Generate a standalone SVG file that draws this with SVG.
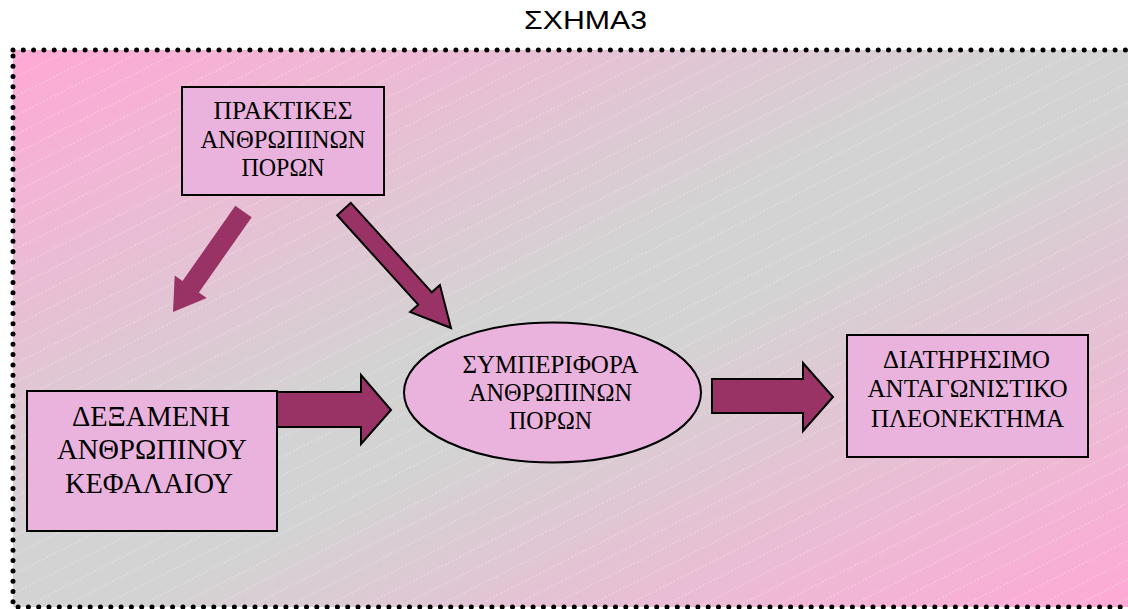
<svg xmlns="http://www.w3.org/2000/svg" width="1128" height="609" viewBox="0 0 1128 609">
<style>
.box{fill:#E9B3DD;stroke:#000;stroke-width:2}
.lbl{font-family:"Liberation Serif","DejaVu Serif","Times New Roman",serif;fill:#000;text-anchor:middle}
.arr{fill:#993366;stroke:#000;stroke-width:2;stroke-linejoin:miter}
.arrn{fill:#993366}
.title{font-family:"Liberation Sans",Arial,sans-serif;font-size:26px;fill:#000}
</style>
<defs>
<linearGradient id="bg" x1="0" y1="0" x2="1" y2="1">
<stop offset="0" stop-color="#FFA8D5"/>
<stop offset="0.45" stop-color="#D3D3D3"/>
<stop offset="0.55" stop-color="#D3D3D3"/>
<stop offset="1" stop-color="#FFA8D5"/>
</linearGradient>
<pattern id="hatch" patternUnits="userSpaceOnUse" width="40" height="17" patternTransform="rotate(-27)">
<line x1="0" y1="8" x2="40" y2="8" stroke="#fff" stroke-width="0.8" stroke-dasharray="2 2" opacity="0.45"/>
</pattern>
</defs>
<rect width="1128" height="609" fill="#fff"/>
<text class="title" x="524" y="29" textLength="123" lengthAdjust="spacingAndGlyphs">ΣΧΗΜΑ3</text>
<g id="frame">
<rect x="13" y="50" width="1130" height="557" fill="url(#bg)"/>
<rect x="13" y="50" width="1130" height="557" fill="url(#hatch)"/>
<rect x="13" y="50" width="1130" height="557" fill="none" stroke="#000" stroke-width="5" stroke-linecap="round" stroke-dasharray="0 10.3"/>
</g>
<g id="connectors">
<polygon class="arr" points="270,392 361,392 361,375 391,410 361,444 361,427 270,427"/>
<polygon class="arr" points="712,379 803,379 803,363 833,397 803,431 803,413 712,413"/>
<polygon class="arr" points="350.8,202.8 431.8,292.3 439.9,285.1 451,328 410.1,311.9 418.2,304.7 337.2,215.2"/>
<polygon class="arrn" points="251.7,217.2 198.9,292.5 206.7,298 173,312 174.7,275.6 182.5,281.1 235.3,205.8"/>
</g>
<g id="n_praktikes">
<rect class="box" x="182" y="87" width="202" height="108"/>
<text class="lbl" font-size="25.5"><tspan x="283" y="119" textLength="139" lengthAdjust="spacingAndGlyphs">ΠΡΑΚΤΙΚΕΣ</tspan></text>
<text class="lbl" font-size="25.5"><tspan x="283" y="148" textLength="165" lengthAdjust="spacingAndGlyphs">ΑΝΘΡΩΠΙΝΩΝ</tspan></text>
<text class="lbl" font-size="25.5"><tspan x="283" y="176" textLength="83" lengthAdjust="spacingAndGlyphs">ΠΟΡΩΝ</tspan></text>
</g>
<g id="n_dexameni">
<rect class="box" x="27" y="391" width="250" height="140"/>
<text class="lbl" font-size="29"><tspan x="151" y="426" textLength="158" lengthAdjust="spacingAndGlyphs">ΔΕΞΑΜΕΝΗ</tspan></text>
<text class="lbl" font-size="29"><tspan x="152" y="459" textLength="190" lengthAdjust="spacingAndGlyphs">ΑΝΘΡΩΠΙΝΟΥ</tspan></text>
<text class="lbl" font-size="29"><tspan x="149" y="493" textLength="168" lengthAdjust="spacingAndGlyphs">ΚΕΦΑΛΑΙΟΥ</tspan></text>
</g>
<g id="n_symperifora">
<ellipse class="box" cx="552.5" cy="392.5" rx="148.5" ry="70"/>
<text class="lbl" font-size="25.5"><tspan x="550.5" y="373" textLength="176" lengthAdjust="spacingAndGlyphs">ΣΥΜΠΕΡΙΦΟΡΑ</tspan></text>
<text class="lbl" font-size="25.5"><tspan x="550.5" y="401" textLength="163" lengthAdjust="spacingAndGlyphs">ΑΝΘΡΩΠΙΝΩΝ</tspan></text>
<text class="lbl" font-size="25.5"><tspan x="550.5" y="429" textLength="83" lengthAdjust="spacingAndGlyphs">ΠΟΡΩΝ</tspan></text>
</g>
<g id="n_pleonektima">
<rect class="box" x="847" y="335" width="241" height="122"/>
<text class="lbl" font-size="26"><tspan x="966.5" y="368" textLength="167" lengthAdjust="spacingAndGlyphs">ΔΙΑΤΗΡΗΣΙΜΟ</tspan></text>
<text class="lbl" font-size="26"><tspan x="967.5" y="397" textLength="200" lengthAdjust="spacingAndGlyphs">ΑΝΤΑΓΩΝΙΣΤΙΚΟ</tspan></text>
<text class="lbl" font-size="26"><tspan x="967.5" y="427" textLength="193" lengthAdjust="spacingAndGlyphs">ΠΛΕΟΝΕΚΤΗΜΑ</tspan></text>
</g>
</svg>
